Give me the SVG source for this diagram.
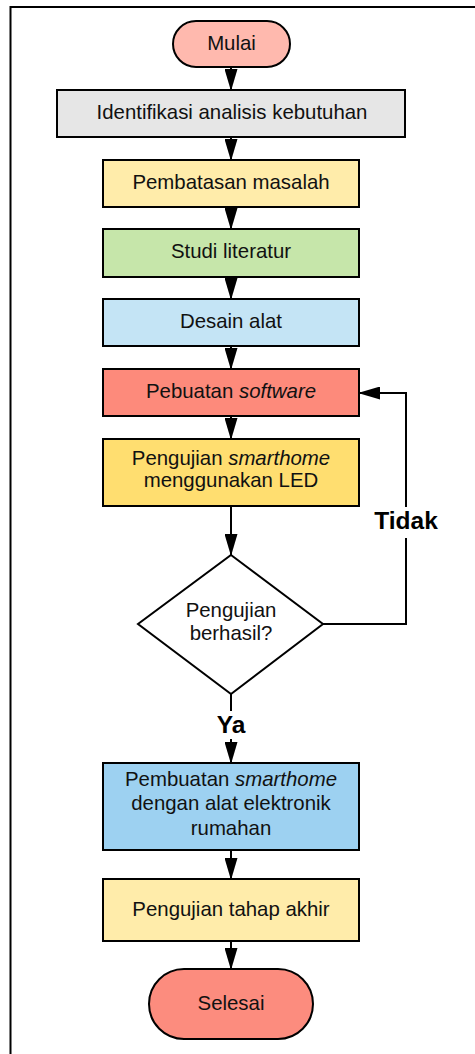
<svg xmlns="http://www.w3.org/2000/svg" width="475" height="1054" viewBox="0 0 475 1054">
<defs>
<style>
.box{stroke:#000;stroke-width:2}
.t{font-family:"Liberation Sans",Arial,sans-serif;font-size:20.4px;fill:#111;text-anchor:middle}
.lbl{font-family:"Liberation Sans",Arial,sans-serif;font-size:24.5px;font-weight:bold;fill:#000;text-anchor:middle}
.c{fill:none;stroke:#000;stroke-width:2;marker-end:url(#ah)}
</style>
<marker id="ah" markerUnits="userSpaceOnUse" markerWidth="22" markerHeight="13" refX="21" refY="6.5" orient="auto">
<path d="M0,0 L22,6.5 L0,13 Z" fill="#000"/>
</marker>
</defs>
<rect width="475" height="1054" fill="#fff"/>
<rect id="frame" x="10.5" y="7" width="520" height="1100" fill="none" stroke="#000" stroke-width="2"/>

<g id="connectors">
<line class="c" x1="231" y1="67" x2="231" y2="90"/>
<line class="c" x1="231" y1="137" x2="231" y2="160"/>
<line class="c" x1="231" y1="207" x2="231" y2="229"/>
<line class="c" x1="231" y1="277" x2="231" y2="299"/>
<line class="c" x1="231" y1="346" x2="231" y2="369"/>
<line class="c" x1="231" y1="416" x2="231" y2="439"/>
<line class="c" x1="231" y1="506" x2="231" y2="555"/>
<line class="c" x1="231" y1="694" x2="231" y2="763"/>
<line class="c" x1="231" y1="850" x2="231" y2="879"/>
<line class="c" x1="231" y1="941" x2="231" y2="969"/>
<polyline class="c" points="323,624 406,624 406,393 359,393"/>
<g id="label-tidak">
<rect x="371" y="507" width="70" height="31" fill="#fff"/>
<text class="lbl" x="406" y="529">Tidak</text>
</g>
<g id="label-ya">
<rect x="213" y="711" width="36" height="28" fill="#fff"/>
<text class="lbl" x="231" y="733">Ya</text>
</g>
</g>

<g id="mulai">
<rect class="box" x="173" y="21" width="117" height="46" rx="23" fill="#ffb9ae"/>
<text class="t" x="231.5" y="50">Mulai</text>
</g>
<g id="identifikasi">
<rect class="box" x="57" y="90" width="348" height="47" fill="#e6e6e6"/>
<text class="t" x="232" y="119">Identifikasi analisis kebutuhan</text>
</g>
<g id="pembatasan">
<rect class="box" x="103" y="160" width="256" height="47" fill="#ffecaa"/>
<text class="t" x="231" y="189">Pembatasan masalah</text>
</g>
<g id="studi">
<rect class="box" x="103" y="229" width="256" height="48" fill="#c6e6aa"/>
<text class="t" x="231" y="258">Studi literatur</text>
</g>
<g id="desain">
<rect class="box" x="103" y="299" width="256" height="47" fill="#c4e4f5"/>
<text class="t" x="231" y="328">Desain alat</text>
</g>
<g id="pebuatan">
<rect class="box" x="103" y="369" width="256" height="47" fill="#fd8a7b"/>
<text class="t" x="231" y="398">Pebuatan <tspan font-style="italic">software</tspan></text>
</g>
<g id="pengujian-led">
<rect class="box" x="103" y="439" width="256" height="67" fill="#ffde70"/>
<text class="t" x="231" y="465">Pengujian <tspan font-style="italic">smarthome</tspan></text>
<text class="t" x="231" y="487">menggunakan LED</text>
</g>
<g id="keputusan">
<polygon class="box" points="231,555 323,624 231,694 138,624" fill="#fff"/>
<text class="t" x="231" y="617">Pengujian</text>
<text class="t" x="231" y="640">berhasil?</text>
</g>
<g id="pembuatan">
<rect class="box" x="103" y="763" width="256" height="87" fill="#9dd1f1"/>
<text class="t" x="231" y="786">Pembuatan <tspan font-style="italic">smarthome</tspan></text>
<text class="t" x="231" y="810">dengan alat elektronik</text>
<text class="t" x="231" y="835">rumahan</text>
</g>
<g id="tahap-akhir">
<rect class="box" x="103" y="879" width="256" height="62" fill="#ffecaa"/>
<text class="t" x="231" y="916">Pengujian tahap akhir</text>
</g>
<g id="selesai">
<rect class="box" x="149" y="969" width="164" height="70" rx="35" fill="#fc8c7e"/>
<text class="t" x="231" y="1010">Selesai</text>
</g>
</svg>
